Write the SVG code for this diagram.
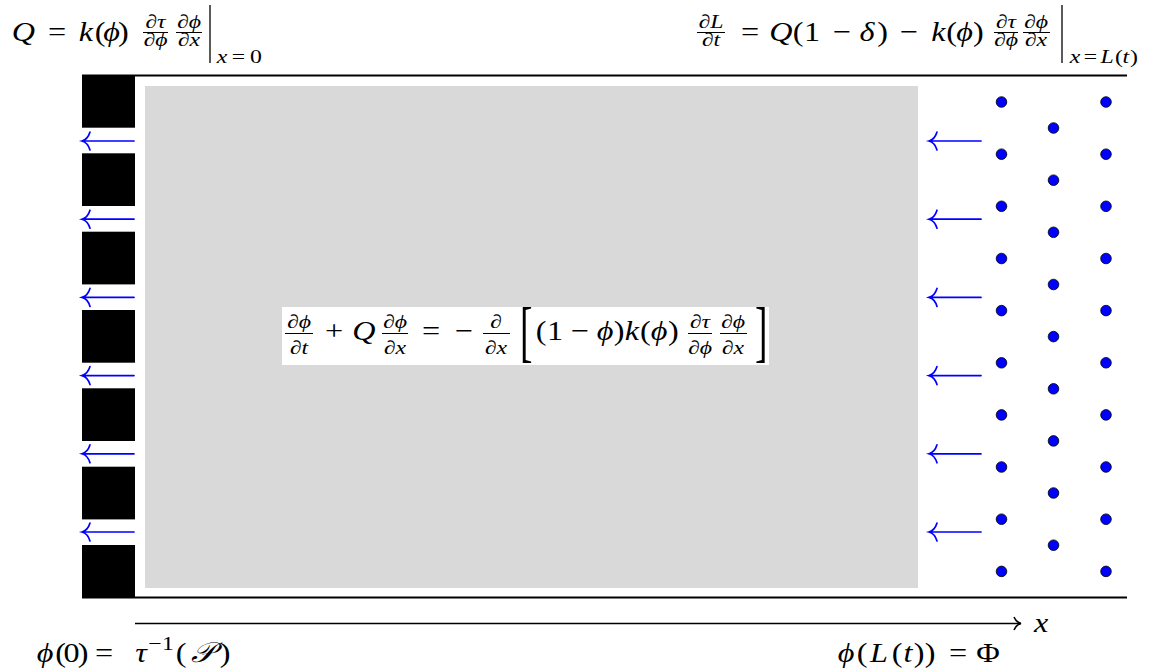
<svg xmlns="http://www.w3.org/2000/svg" width="1154" height="672" viewBox="0 0 1154 672">
<style>
.m text{font-family:"Liberation Serif","DejaVu Serif",serif;font-size:28px;fill:#000;text-anchor:middle;transform-box:fill-box;transform-origin:center;transform:scaleX(1.15)}
.m text.s{font-size:19px;transform:scaleX(1.25)}
.m text.br{transform:none;text-anchor:start;font-size:68px}
.m text.i,.m tspan.i{font-style:italic}
.fb{stroke:#000;stroke-width:1}
.blk{fill:#000}
.dot{fill:#0000ff;stroke:#000;stroke-width:0.8}
.ar{fill:none;stroke:#0000ff;stroke-width:1.7;stroke-linecap:round}
.wall{stroke:#000;stroke-width:2}
.ev{stroke:#000;stroke-width:1.3}
</style>
<defs>
<g id="larr"><path d="M0,0 H52 M8,-9 C6.5,-4 3.5,-1 0,0 C3.5,1 6.5,4 8,9"/></g>
<marker id="ah" markerWidth="12" markerHeight="16" refX="9" refY="8" orient="auto" markerUnits="userSpaceOnUse">
<path d="M2,1.5 C3.5,5 6,7.3 9,8 C6,8.7 3.5,11 2,14.5" fill="none" stroke="#000" stroke-width="1.6"/>
</marker>
</defs>
<rect width="1154" height="672" fill="#fff"/>

<g id="domain">
<rect x="145" y="86" width="773" height="502" fill="#d9d9d9"/>
<line class="wall" x1="82" y1="75.5" x2="1127" y2="75.5"/>
<line class="wall" x1="82" y1="597.5" x2="1127" y2="597.5"/>
</g>

<g id="left-wall">
<rect class="blk" x="82" y="75" width="53" height="52.7"/>
<rect class="blk" x="82" y="153.3" width="53" height="52.7"/>
<rect class="blk" x="82" y="231.7" width="53" height="52.7"/>
<rect class="blk" x="82" y="310" width="53" height="52.7"/>
<rect class="blk" x="82" y="388.3" width="53" height="52.7"/>
<rect class="blk" x="82" y="466.7" width="53" height="52.7"/>
<rect class="blk" x="82" y="545" width="53" height="53"/>
</g>

<g id="particles">
<g class="dot">
<circle cx="1001.5" cy="102" r="5.3"/><circle cx="1001.5" cy="154.2" r="5.3"/><circle cx="1001.5" cy="206.3" r="5.3"/><circle cx="1001.5" cy="258.5" r="5.3"/><circle cx="1001.5" cy="310.6" r="5.3"/><circle cx="1001.5" cy="362.8" r="5.3"/><circle cx="1001.5" cy="414.9" r="5.3"/><circle cx="1001.5" cy="467" r="5.3"/><circle cx="1001.5" cy="519.2" r="5.3"/><circle cx="1001.5" cy="571.4" r="5.3"/>
<circle cx="1053.5" cy="128" r="5.3"/><circle cx="1053.5" cy="180.2" r="5.3"/><circle cx="1053.5" cy="232.3" r="5.3"/><circle cx="1053.5" cy="284.5" r="5.3"/><circle cx="1053.5" cy="336.6" r="5.3"/><circle cx="1053.5" cy="388.8" r="5.3"/><circle cx="1053.5" cy="440.9" r="5.3"/><circle cx="1053.5" cy="493" r="5.3"/><circle cx="1053.5" cy="545.2" r="5.3"/>
<circle cx="1106" cy="102" r="5.3"/><circle cx="1106" cy="154.2" r="5.3"/><circle cx="1106" cy="206.3" r="5.3"/><circle cx="1106" cy="258.5" r="5.3"/><circle cx="1106" cy="310.6" r="5.3"/><circle cx="1106" cy="362.8" r="5.3"/><circle cx="1106" cy="414.9" r="5.3"/><circle cx="1106" cy="467" r="5.3"/><circle cx="1106" cy="519.2" r="5.3"/><circle cx="1106" cy="571.4" r="5.3"/>
</g>
</g>

<g id="connectors">
<g class="ar">
<use href="#larr" x="82" y="141"/>
<use href="#larr" x="82" y="219.2"/>
<use href="#larr" x="82" y="297.4"/>
<use href="#larr" x="82" y="375.6"/>
<use href="#larr" x="82" y="453.8"/>
<use href="#larr" x="82" y="532"/>
<use href="#larr" x="929" y="141"/>
<use href="#larr" x="929" y="219.2"/>
<use href="#larr" x="929" y="297.4"/>
<use href="#larr" x="929" y="375.6"/>
<use href="#larr" x="929" y="453.8"/>
<use href="#larr" x="929" y="532"/>
</g>
<line x1="135" y1="623.5" x2="1021" y2="623.5" stroke="#000" stroke-width="1.6" marker-end="url(#ah)"/>
</g>

<g id="eq-left-bc" class="m">
<text x="23.5" y="41" class="i">Q</text>
<text x="57" y="41">=</text>
<text x="86" y="41" class="i">k</text>
<text x="100" y="41">(</text>
<text x="111.5" y="41" class="i">ϕ</text>
<text x="123.5" y="41">)</text>
<text x="155.5" y="28" class="s">∂<tspan class="i">τ</tspan></text>
<line class="fb" x1="143" y1="32.5" x2="168" y2="32.5"/>
<text x="155.5" y="46.5" class="s">∂<tspan class="i">ϕ</tspan></text>
<text x="189" y="28" class="s">∂<tspan class="i">ϕ</tspan></text>
<line class="fb" x1="176" y1="32.5" x2="202" y2="32.5"/>
<text x="189" y="46.5" class="s">∂<tspan class="i">x</tspan></text>
<line class="ev" x1="210" y1="5" x2="210" y2="63"/>
<text x="222" y="63" class="s i">x</text>
<text x="238.5" y="63" class="s">=</text>
<text x="256" y="63" class="s">0</text>
</g>

<g id="eq-right-bc" class="m">
<text x="711" y="28" class="s">∂<tspan class="i">L</tspan></text>
<line class="fb" x1="697" y1="32.5" x2="725" y2="32.5"/>
<text x="711" y="46.5" class="s">∂<tspan class="i">t</tspan></text>
<text x="750" y="41">=</text>
<text x="781" y="41" class="i">Q</text>
<text x="798" y="41">(</text>
<text x="812" y="41">1</text>
<text x="842" y="41">−</text>
<text x="867" y="41" class="i">δ</text>
<text x="882.5" y="41">)</text>
<text x="909" y="41">−</text>
<text x="938.5" y="41" class="i">k</text>
<text x="951.5" y="41">(</text>
<text x="964.5" y="41" class="i">ϕ</text>
<text x="978.5" y="41">)</text>
<text x="1006" y="28" class="s">∂<tspan class="i">τ</tspan></text>
<line class="fb" x1="994" y1="32.5" x2="1018" y2="32.5"/>
<text x="1006" y="46.5" class="s">∂<tspan class="i">ϕ</tspan></text>
<text x="1036" y="28" class="s">∂<tspan class="i">ϕ</tspan></text>
<line class="fb" x1="1023" y1="32.5" x2="1050" y2="32.5"/>
<text x="1036" y="46.5" class="s">∂<tspan class="i">x</tspan></text>
<line class="ev" x1="1062" y1="5" x2="1062" y2="63"/>
<text x="1075" y="63" class="s i">x</text>
<text x="1090.5" y="63" class="s">=</text>
<text x="1107" y="63" class="s i">L</text>
<text x="1119" y="63" class="s">(</text>
<text x="1126" y="63" class="s i">t</text>
<text x="1134" y="63" class="s">)</text>
</g>

<g id="eq-pde" class="m">
<rect x="282" y="307" width="487" height="58" fill="#fff"/>
<text x="299" y="328" class="s">∂<tspan class="i">ϕ</tspan></text>
<line class="fb" x1="285" y1="333.5" x2="313" y2="333.5"/>
<text x="299" y="354.5" class="s">∂<tspan class="i">t</tspan></text>
<text x="334" y="340">+</text>
<text x="364" y="340" class="i">Q</text>
<text x="395" y="328" class="s">∂<tspan class="i">ϕ</tspan></text>
<line class="fb" x1="382" y1="333.5" x2="408" y2="333.5"/>
<text x="395" y="354.5" class="s">∂<tspan class="i">x</tspan></text>
<text x="431" y="340">=</text>
<text x="464" y="340">−</text>
<text x="496" y="328" class="s">∂</text>
<line class="fb" x1="483" y1="333.5" x2="510" y2="333.5"/>
<text x="496" y="354.5" class="s">∂<tspan class="i">x</tspan></text>
<g transform="translate(520,354) scale(0.55,1)"><text class="br" x="0" y="0">[</text></g>
<text x="541" y="340">(</text>
<text x="555" y="340">1</text>
<text x="580" y="340">−</text>
<text x="605" y="340" class="i">ϕ</text>
<text x="619" y="340">)</text>
<text x="632" y="340" class="i">k</text>
<text x="645.5" y="340">(</text>
<text x="659" y="340" class="i">ϕ</text>
<text x="673.5" y="340">)</text>
<text x="700" y="328" class="s">∂<tspan class="i">τ</tspan></text>
<line class="fb" x1="688" y1="333.5" x2="712" y2="333.5"/>
<text x="700" y="354.5" class="s">∂<tspan class="i">ϕ</tspan></text>
<text x="733" y="328" class="s">∂<tspan class="i">ϕ</tspan></text>
<line class="fb" x1="720" y1="333.5" x2="747" y2="333.5"/>
<text x="733" y="354.5" class="s">∂<tspan class="i">x</tspan></text>
<g transform="translate(755,354) scale(0.55,1)"><text class="br" x="0" y="0">]</text></g>
</g>

<g id="label-left" class="m">
<text x="45" y="662" class="i">ϕ</text>
<text x="60.5" y="662">(</text>
<text x="71.5" y="662">0</text>
<text x="83" y="662">)</text>
<text x="104" y="662">=</text>
<text x="141" y="662" class="i">τ</text>
<text x="155" y="650" class="s">−</text>
<text x="168" y="650" class="s">1</text>
<text x="181" y="662">(</text>
<text x="203" y="662" class="i">𝒫</text>
<text x="225" y="662">)</text>
</g>

<g id="label-right" class="m">
<text x="846" y="662" class="i">ϕ</text>
<text x="862" y="662">(</text>
<text x="879" y="662" class="i">L</text>
<text x="897" y="662">(</text>
<text x="908" y="662" class="i">t</text>
<text x="919" y="662">)</text>
<text x="930" y="662">)</text>
<text x="958" y="662">=</text>
<text x="988" y="662">Φ</text>
</g>

<g id="axis-label" class="m">
<text x="1041" y="632" class="i">x</text>
</g>
</svg>
